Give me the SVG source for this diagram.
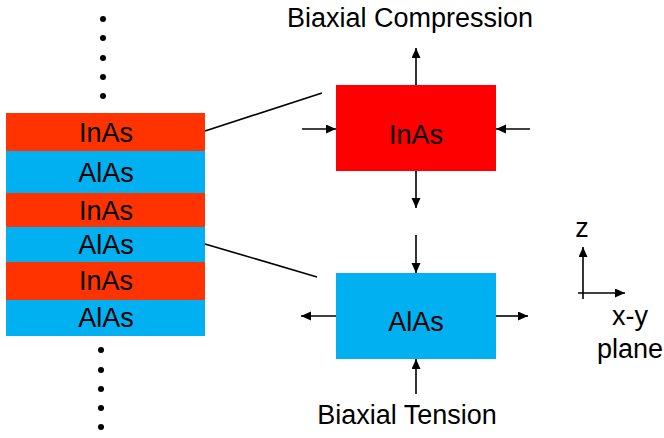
<svg xmlns="http://www.w3.org/2000/svg" width="664" height="438" viewBox="0 0 664 438">
<style>
  text { font-family: "Liberation Sans", Arial, sans-serif; font-size: 27px; fill: #000; text-anchor: middle; }
  .inas { fill: #FF3300; }
  .alas { fill: #00B0F0; }
  .ln { stroke: #000; stroke-width: 1.6; fill: none; }
  .arr { stroke: #000; stroke-width: 1.6; fill: none; marker-end: url(#ah); }
  .dot { fill: #000; }
</style>
<defs>
  <marker id="ah" markerUnits="userSpaceOnUse" markerWidth="11" markerHeight="10" refX="10" refY="4.5" orient="auto">
    <path d="M0,0 L10,4.5 L0,9 Z" fill="#000"/>
  </marker>
</defs>
<rect width="664" height="438" fill="#fff"/>

<g id="dots-top">
  <circle class="dot" cx="103" cy="19" r="3"/>
  <circle class="dot" cx="103" cy="38" r="3"/>
  <circle class="dot" cx="103" cy="58" r="3"/>
  <circle class="dot" cx="103" cy="77" r="3"/>
  <circle class="dot" cx="103" cy="96" r="3"/>
</g>
<g id="dots-bottom">
  <circle class="dot" cx="101" cy="350" r="3"/>
  <circle class="dot" cx="101" cy="370" r="3"/>
  <circle class="dot" cx="101" cy="389" r="3"/>
  <circle class="dot" cx="101" cy="408" r="3"/>
  <circle class="dot" cx="101" cy="427" r="3"/>
</g>

<g id="stack">
  <g id="layer1"><rect class="inas" x="6" y="113" width="199" height="38"/><text x="106" y="142">InAs</text></g>
  <g id="layer2"><rect class="alas" x="6" y="151" width="199" height="42"/><text x="106" y="182">AlAs</text></g>
  <g id="layer3"><rect class="inas" x="6" y="193" width="199" height="34"/><text x="106" y="220">InAs</text></g>
  <g id="layer4"><rect class="alas" x="6" y="227" width="199" height="35"/><text x="106" y="254">AlAs</text></g>
  <g id="layer5"><rect class="inas" x="6" y="262" width="199" height="38"/><text x="106" y="290">InAs</text></g>
  <g id="layer6"><rect class="alas" x="6" y="300" width="199" height="36"/><text x="106" y="327">AlAs</text></g>
</g>

<g id="inas-box">
  <rect x="336" y="85" width="160" height="86" fill="#FF0000"/>
  <text x="416" y="144">InAs</text>
</g>
<g id="alas-box">
  <rect class="alas" x="336" y="273" width="160" height="86"/>
  <text x="416" y="331">AlAs</text>
</g>

<g id="label-compression"><text x="410" y="27">Biaxial Compression</text></g>
<g id="label-tension"><text x="407" y="424">Biaxial Tension</text></g>

<g id="axes">
  <line class="arr" x1="583" y1="299" x2="583" y2="247"/>
  <line class="arr" x1="578" y1="293" x2="625" y2="293"/>
  <text x="582" y="237">z</text>
  <text x="630" y="325">x-y</text>
  <text x="630" y="358">plane</text>
</g>

<g id="connectors">
  <line class="ln" x1="205" y1="131" x2="322" y2="93"/>
  <line class="ln" x1="205" y1="244" x2="317" y2="277"/>
  <line class="arr" x1="416" y1="85" x2="416" y2="48"/>
  <line class="arr" x1="416" y1="171" x2="416" y2="208"/>
  <line class="arr" x1="302" y1="129" x2="336" y2="129"/>
  <line class="arr" x1="530" y1="129" x2="496" y2="129"/>
  <line class="arr" x1="416" y1="235" x2="416" y2="273"/>
  <line class="arr" x1="416" y1="394" x2="416" y2="359"/>
  <line class="arr" x1="336" y1="316" x2="301" y2="316"/>
  <line class="arr" x1="496" y1="316" x2="528" y2="316"/>
</g>
</svg>
